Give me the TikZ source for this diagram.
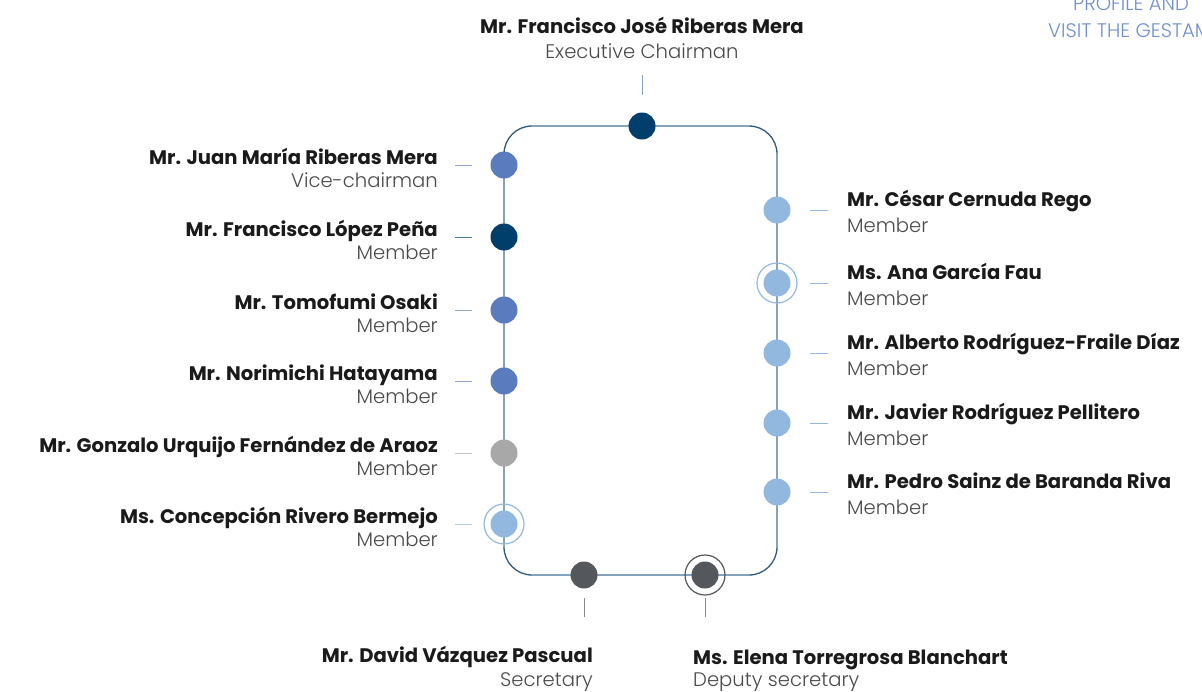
\documentclass[tikz,border=0pt]{standalone}
\usepackage{fontspec}
\setmainfont{Poppins}
\newfontfamily\rolefont{Poppins Light}
\definecolor{navy}{HTML}{003F6B}
\definecolor{midblue}{HTML}{5B7BBF}
\definecolor{lightblue}{HTML}{93B8DF}
\definecolor{greydot}{HTML}{A8A8A8}
\definecolor{darkgrey}{HTML}{54575C}
\definecolor{framedark}{HTML}{2F5B80}
\definecolor{framelight}{HTML}{86A3BD}
\definecolor{namec}{HTML}{1A1A1A}
\definecolor{rolec}{HTML}{4A4A4A}
\definecolor{linkc}{HTML}{6F8FCF}
\begin{document}
\begin{tikzpicture}[x=1pt,y=-1pt,
  dotn/.style={circle, inner sep=0pt, minimum size=27pt, fill=#1},
  ringn/.style={circle, draw=#1, line width=1.2pt, minimum size=40pt, inner sep=0pt},
  nm/.style={font=\fontsize{19.6}{22}\selectfont\bfseries, text=namec, inner sep=0pt},
  rl/.style={font=\fontsize{19.6}{22}\selectfont\rolefont, text=rolec, inner sep=0pt},
  tick/.style={draw=#1, line width=1pt},
  lnk/.style={font=\fontsize{19.6}{22}\selectfont\rolefont, text=linkc, inner sep=0pt, anchor=base west}]
\useasboundingbox (0,0) rectangle (1202,691);
% frame
\draw[framedark, line width=1.3pt, rounded corners=28pt] (504,126) rectangle (777,575);
\draw[framelight, line width=1.6pt] (532,126) -- (749,126) (777,154) -- (777,547)
  (749,575) -- (532,575) (504,547) -- (504,154);
% top
\node[dotn=navy] (top) at (642,126) {};
\coordinate (tta) at (642,75); \coordinate (ttb) at (642,95);
\draw[tick=framelight] (tta) -- (ttb);
\node[nm, anchor=base] (topn) at (642,33) {Mr. Francisco José Riberas Mera};
\node[rl, anchor=base] (topr) at (642,58) {Executive Chairman};
% left
\foreach \y/\c/\n/\r [count=\i] in {
  165/midblue/{Mr. Juan María Riberas Mera}/{Vice-chairman},
  237/navy/{Mr. Francisco López Peña}/{Member},
  310/midblue/{Mr. Tomofumi Osaki}/{Member},
  381/midblue/{Mr. Norimichi Hatayama}/{Member},
  453/greydot/{Mr. Gonzalo Urquijo Fernández de Araoz}/{Member},
  524/lightblue/{Ms. Concepción Rivero Bermejo}/{Member}} {
  \node[dotn=\c] (L\i) at (504,\y) {};
  \coordinate (Lta\i) at (455,\y); \coordinate (Ltb\i) at (472,\y);
  \draw[tick=\c!70!white] (Lta\i) -- (Ltb\i);
  \node[nm, anchor=base east] (Ln\i) at (438,\y-1) {\n};
  \node[rl, anchor=base east] (Lr\i) at (438,\y+22) {\r};
}
\node[ringn=lightblue] (Lring) at (L6) {};
% right
\foreach \y [count=\i] /\n in {
  210/{Mr. César Cernuda Rego},
  283/{Ms. Ana García Fau},
  353/{Mr. Alberto Rodríguez-Fraile Díaz},
  423/{Mr. Javier Rodríguez Pellitero},
  492/{Mr. Pedro Sainz de Baranda Riva}} {
  \node[dotn=lightblue] (R\i) at (777,\y) {};
  \coordinate (Rta\i) at (810,\y); \coordinate (Rtb\i) at (828,\y);
  \draw[tick=lightblue] (Rta\i) -- (Rtb\i);
  \node[nm, anchor=base west] (Rn\i) at (847,\y-4) {\n};
  \node[rl, anchor=base west] (Rr\i) at (847,\y+22) {Member};
}
\node[ringn=lightblue] (Rring) at (R2) {};
% bottom
\node[dotn=darkgrey] (B1) at (584,575) {};
\node[dotn=darkgrey] (B2) at (705,575) {};
\node[ringn=darkgrey] (Bring) at (B2) {};
\coordinate (B1a) at (584,598); \coordinate (B1b) at (584,617);
\coordinate (B2a) at (705,598); \coordinate (B2b) at (705,617);
\draw[tick=darkgrey!70!white] (B1a) -- (B1b);
\draw[tick=darkgrey!70!white] (B2a) -- (B2b);
\node[nm, anchor=base east] (B1n) at (593,662) {Mr. David Vázquez Pascual};
\node[rl, anchor=base east] (B1r) at (593,686) {Secretary};
\node[nm, anchor=base west] (B2n) at (693,664) {Ms. Elena Torregrosa Blanchart};
\node[rl, anchor=base west] (B2r) at (693,686) {Deputy secretary};
% top right link
\node[lnk] (lk1) at (1073,10) {PROFILE AND};
\node[lnk] (lk2) at (1048,37) {VISIT THE GESTAM};
\end{tikzpicture}
\end{document}
